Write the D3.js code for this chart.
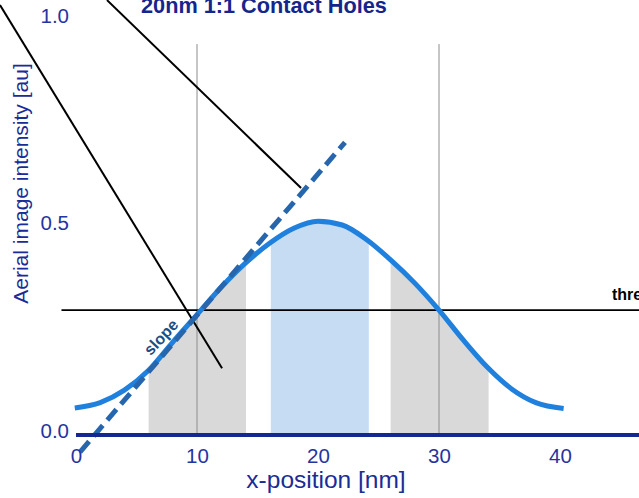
<!DOCTYPE html>
<html>
<head>
<meta charset="utf-8">
<script src="https://cdn.jsdelivr.net/npm/d3@7"></script>
<style>
  html, body { margin: 0; padding: 0; background: #fff; }
  svg { display: block; }
  text { font-family: "Liberation Sans", Arial, Helvetica, sans-serif; }
</style>
</head>
<body>
<div id="chart"></div>
<script>
// Aerial image intensity profile across a 20 nm contact hole (1:1 pitch)
const positionNm = [-0.1, 2, 4, 6, 8, 10, 12, 14, 16, 18, 20, 22, 24, 26, 28, 30, 32, 34, 36, 38, 40.3];
const intensity  = [0.065, 0.078, 0.108, 0.156, 0.224, 0.29, 0.356, 0.414, 0.462, 0.498, 0.515, 0.506, 0.471, 0.422, 0.366, 0.301, 0.229, 0.163, 0.111, 0.078, 0.064];

const xTicks = [0, 10, 20, 30, 40];
const yTicks = [0, 0.5, 1.0];
const gridX = [10, 30];
const gridTop = 0.942;

// shaded x-ranges under the curve [start, end] (nm)
const edgeBands = [[6, 14.05], [26, 34.1]];
const holeBands = [[16.1, 24.2]];

const threshold = 0.301;
const thresholdSpan = [-1.2, 50];

// tangent at the threshold crossing
const slopeLine = [[0.33, -0.041], [22.23, 0.705]];
const slopeLabelAt = [7.02, 0.236];

// leader lines [x1, y1, x2, y2]
const leaders = [[-6.28, 1.036, 12.07, 0.161], [2.56, 1.048, 18.6, 0.595]];

const W = 639, H = 498;
const svg = d3.select("#chart").append("svg").attr("width", W).attr("height", H);

const x = d3.scaleLinear().domain([0, 40]).range([76, 560]);
const y = d3.scaleLinear().domain([0, 1]).range([435, 20]);

const pts = positionNm.map((p, i) => [p, intensity[i]]);
const curve = d3.curveMonotoneX;

// clip region: the area under the intensity curve
const defs = svg.append("defs");
defs.append("clipPath").attr("id", "underCurve")
  .append("path")
  .attr("d", d3.area().x(d => x(d[0])).y0(y(0)).y1(d => y(d[1])).curve(curve)(pts));

const bands = svg.append("g").attr("clip-path", "url(#underCurve)");
bands.selectAll("rect.edge").data(edgeBands).join("rect")
  .attr("class", "edge")
  .attr("x", d => x(d[0])).attr("width", d => x(d[1]) - x(d[0]))
  .attr("y", y(1)).attr("height", y(0) - y(1))
  .attr("fill", "#d9d9d9");
bands.selectAll("rect.hole").data(holeBands).join("rect")
  .attr("class", "hole")
  .attr("x", d => x(d[0])).attr("width", d => x(d[1]) - x(d[0]))
  .attr("y", y(1)).attr("height", y(0) - y(1))
  .attr("fill", "#c6dcf3");

// vertical grid lines
svg.selectAll("line.grid").data(gridX).join("line")
  .attr("class", "grid")
  .attr("x1", d => x(d)).attr("x2", d => x(d))
  .attr("y1", y(gridTop)).attr("y2", y(0))
  .attr("stroke", "#8c8c8c").attr("stroke-width", 1);

// threshold line
svg.append("line")
  .attr("x1", x(thresholdSpan[0])).attr("x2", x(thresholdSpan[1]))
  .attr("y1", y(threshold)).attr("y2", y(threshold))
  .attr("stroke", "#000").attr("stroke-width", 1.6);
svg.append("text")
  .attr("x", x(44.3)).attr("y", y(threshold) - 10)
  .attr("font-size", 16).attr("font-weight", "bold").attr("fill", "#000")
  .text("threshold");

// intensity curve
svg.append("path")
  .attr("d", d3.line().x(d => x(d[0])).y(d => y(d[1])).curve(curve)(pts))
  .attr("fill", "none").attr("stroke", "#1f80dd").attr("stroke-width", 5);

// leader lines
svg.selectAll("line.leader").data(leaders).join("line")
  .attr("class", "leader")
  .attr("x1", d => x(d[0])).attr("y1", d => y(d[1]))
  .attr("x2", d => x(d[2])).attr("y2", d => y(d[3]))
  .attr("stroke", "#000").attr("stroke-width", 2);

// slope tangent (dashed)
svg.append("line")
  .attr("x1", x(slopeLine[0][0])).attr("y1", y(slopeLine[0][1]))
  .attr("x2", x(slopeLine[1][0])).attr("y2", y(slopeLine[1][1]))
  .attr("stroke", "#2766ad").attr("stroke-width", 5)
  .attr("stroke-dasharray", "14 7");
svg.append("text")
  .attr("transform", `translate(${x(slopeLabelAt[0])},${y(slopeLabelAt[1])}) rotate(-47)`)
  .attr("text-anchor", "middle").attr("dy", "0.35em")
  .attr("font-size", 16).attr("font-weight", "bold").attr("fill", "#1d4e86")
  .text("slope");

// baseline (y = 0) axis line
svg.append("line")
  .attr("x1", x(0)).attr("x2", W)
  .attr("y1", y(0)).attr("y2", y(0))
  .attr("stroke", "#15288f").attr("stroke-width", 4);

// x axis labels
const gx = svg.append("g").attr("transform", `translate(0,${y(0)})`)
  .call(d3.axisBottom(x).tickValues(xTicks).tickSize(0).tickPadding(13.5).tickFormat(d3.format("d")));
gx.select(".domain").remove();
gx.selectAll("text").attr("font-size", 20.5).attr("fill", "#2535a0")
  .attr("font-family", "Liberation Sans, Arial, sans-serif");

// y axis labels
const gy = svg.append("g").attr("transform", `translate(${x(0)},0)`)
  .call(d3.axisLeft(y).tickValues(yTicks).tickSize(0).tickPadding(7).tickFormat(d3.format(".1f")));
gy.select(".domain").remove();
gy.selectAll("text").attr("font-size", 20.5).attr("fill", "#2535a0").attr("dy", "0.1em")
  .attr("font-family", "Liberation Sans, Arial, sans-serif");

// axis titles
svg.append("text")
  .attr("x", 326).attr("y", 488)
  .attr("text-anchor", "middle").attr("font-size", 24.5).attr("fill", "#1a2c95")
  .text("x-position [nm]");
svg.append("text")
  .attr("transform", "translate(28,183.5) rotate(-90)")
  .attr("text-anchor", "middle").attr("font-size", 21).attr("fill", "#1a2c95")
  .text("Aerial image intensity [au]");

// chart title
svg.append("text")
  .attr("x", 264).attr("y", 13)
  .attr("text-anchor", "middle").attr("font-size", 21.7).attr("font-weight", "bold").attr("fill", "#16258c")
  .text("20nm 1:1 Contact Holes");
</script>
</body>
</html>
